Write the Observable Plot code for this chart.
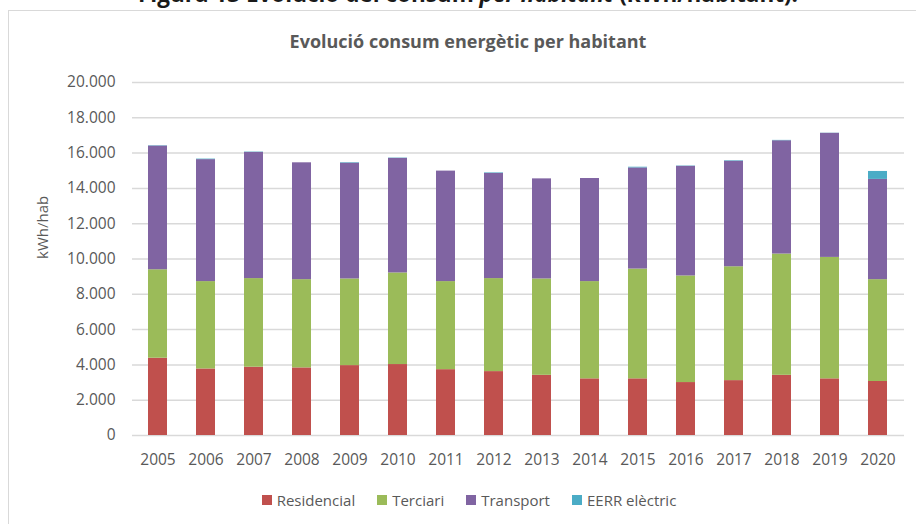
<!DOCTYPE html>
<html>
<head>
<meta charset="utf-8">
<script src="https://cdn.jsdelivr.net/npm/d3@7"></script>
<script src="https://cdn.jsdelivr.net/npm/@observablehq/plot@0.6"></script>
<style>
  body { margin: 0; background: #fff; }
  #wrap { position: relative; width: 916px; height: 524px; overflow: hidden; background: #fff; font-family: "Open Sans", sans-serif; }
  #fig { position: absolute; left: 0; top: -17px; width: 936px; text-align: center; font-weight: bold; font-size: 22.5px; line-height: 22.5px; color: #1a1a1a; white-space: nowrap; }
  #box { position: absolute; left: 8px; top: 10px; width: 940px; height: 560px; border: 1.5px solid #d9d9d9; box-sizing: border-box; background: #fff; }
  #title { position: absolute; left: 0; top: 31px; width: 936px; text-align: center; font-weight: bold; font-size: 18px; line-height: 20px; color: #595959; white-space: nowrap; }
  #chart { position: absolute; left: 0; top: 0; }
  #legend { position: absolute; left: 0; top: 489px; width: 938px; display: flex; justify-content: center; font-size: 15px; color: #595959; line-height: 22px; }
  .item { display: flex; align-items: center; margin: 0 11px; }
  .sw { width: 10px; height: 10px; margin-right: 5px; }
</style>
</head>
<body>
<div id="wrap">
  <div id="fig">Figura 13 Evolució del consum <i>per habitant</i> (kWh/habitant).</div>
  <div id="box"></div>
  <div id="title">Evolució consum energètic per habitant</div>
  <div id="chart"></div>
  <div id="legend"></div>
</div>
<script>
const years = ["2005","2006","2007","2008","2009","2010","2011","2012","2013","2014","2015","2016","2017","2018","2019","2020"];
const series = ["Residencial","Terciari","Transport","EERR elèctric"];
const colors = ["#C0504D","#9BBB59","#8064A2","#4BACC6"];
const residencial = [4380,3770,3870,3830,3960,4020,3730,3620,3410,3210,3210,3000,3110,3410,3210,3060];
const terciari    = [5010,4950,5020,5000,4910,5190,4990,5270,5460,5510,6220,6040,6450,6870,6880,5770];
const transport   = [7010,6910,7150,6620,6560,6490,6260,5960,5670,5840,5730,6210,5980,6420,7030,5680];
const eerr        = [20,30,20,0,30,20,0,30,0,0,40,20,30,20,10,450];
const yTicks = [0,2000,4000,6000,8000,10000,12000,14000,16000,18000,20000];

const values = [residencial, terciari, transport, eerr];
const data = [];
years.forEach((y, i) => {
  series.forEach((s, j) => data.push({year: y, serie: s, value: values[j][i]}));
});

const loc = d3.formatLocale({decimal: ",", thousands: ".", grouping: [3], currency: ["", ""]});
const fmt = loc.format(",d");

const font = "'Open Sans', sans-serif";
const plot = Plot.plot({
  width: 916,
  height: 475,
  marginTop: 82,
  marginBottom: 40,
  marginLeft: 132,
  marginRight: 12,
  style: {fontFamily: font, fontSize: "15.5px", color: "#595959", background: "transparent"},
  x: {domain: years, paddingInner: 0.6, paddingOuter: 0.3, label: null, tickSize: 0, tickPadding: 18},
  y: {domain: [0, 20000], ticks: yTicks, tickFormat: fmt, label: null, tickSize: 0, tickPadding: 17},
  color: {domain: series, range: colors},
  marks: [
    Plot.ruleY(yTicks, {stroke: "#d9d9d9", strokeWidth: 1.5}),
    Plot.barY(data, {x: "year", y: "value", fill: "serie"}),
    Plot.axisX({tickSize: 0, tickPadding: 18, fill: "#595959"}),
    Plot.axisY({ticks: yTicks, tickFormat: fmt, tickSize: 0, tickPadding: 17, fill: "#595959"}),
    Plot.text(["kWh/hab"], {frameAnchor: "left", rotate: -90, dx: -89, fill: "#595959", fontSize: 15})
  ]
});
document.getElementById("chart").appendChild(plot);

const legend = document.getElementById("legend");
series.forEach((s, i) => {
  const it = document.createElement("div");
  it.className = "item";
  const sw = document.createElement("span");
  sw.className = "sw";
  sw.style.background = colors[i];
  const t = document.createElement("span");
  t.textContent = s;
  it.appendChild(sw); it.appendChild(t);
  legend.appendChild(it);
});
</script>
</body>
</html>
